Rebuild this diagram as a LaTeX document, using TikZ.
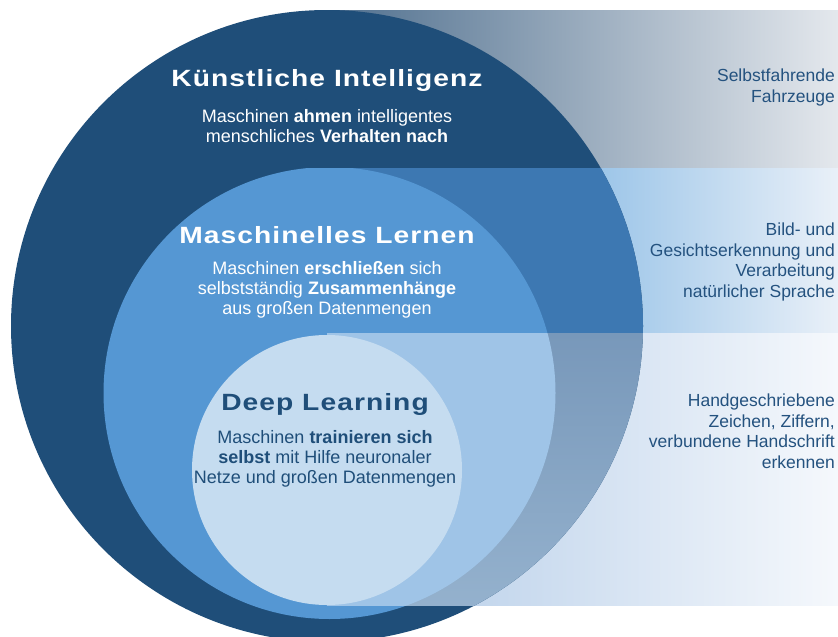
\documentclass[tikz,border=0pt]{standalone}
\usepackage{fontspec}
\setmainfont{Liberation Sans}
\newfontfamily\titlefont[FakeStretch=1.2,LetterSpace=4.5]{Liberation Sans Bold}
\definecolor{kidark}{RGB}{31,78,121}
\definecolor{kiband}{RGB}{61,120,178}
\definecolor{kigrayT}{RGB}{120,152,186}
\definecolor{kigrayB}{RGB}{148,177,205}
\definecolor{mlblue}{RGB}{85,151,211}
\definecolor{mllight}{RGB}{159,196,231}
\definecolor{dllight}{RGB}{197,220,240}
\definecolor{bandAl}{RGB}{79,111,142}
\definecolor{bandAr}{RGB}{228,232,237}
\definecolor{bandBl}{RGB}{154,196,232}
\definecolor{bandBr}{RGB}{233,240,248}
\definecolor{bandCl}{RGB}{193,213,236}
\definecolor{bandCr}{RGB}{245,248,252}
\definecolor{sidetext}{RGB}{36,82,127}
\begin{document}
\begin{tikzpicture}[x=1pt,y=-1pt,
  ttl/.style={font=\titlefont\fontsize{23.5}{27}\selectfont, inner sep=0pt, anchor=base},
  sub/.style={font=\fontsize{18}{20}\selectfont, align=center, inner sep=0pt, anchor=base},
  side/.style={font=\fontsize{17.5}{20.5}\selectfont, align=right, inner sep=0pt, anchor=base east, text=sidetext}]
\fill[white] (0,0) rectangle (838,637);
\clip (0,0) rectangle (838,637);
% bands
\shade[left color=bandAl, right color=bandAr] (327,10) rectangle (838,168.4);
\shade[left color=bandBl, right color=bandBr] (590,168) rectangle (838,333.4);
\shade[left color=bandCl, right color=bandCr] (460,333) rectangle (838,605);
% base circles
\fill[kidark] (327,326) circle[radius=316pt];
\begin{scope}
  \clip (0,168) rectangle (838,637);
  \fill[mlblue] (329.5,393) circle[radius=226pt];
\end{scope}
\fill[dllight] (327,470) circle[radius=135pt];
% band 2 tint (right half)
\begin{scope}
  \clip (327,168) rectangle (838,333.6);
  \fill[kiband] (327,326) circle[radius=316pt];
  \fill[mlblue] (329.5,393) circle[radius=226pt];
\end{scope}
% band 3 tint (right half)
\begin{scope}
  \clip (327,326) circle[radius=316pt];
  \shade[top color=kigrayT, bottom color=kigrayB] (327,333) rectangle (838,605);
\end{scope}
\begin{scope}
  \clip (327,333) rectangle (838,605);
  \fill[mllight] (329.5,393) circle[radius=226pt];
  \fill[dllight] (327,470) circle[radius=135pt];
\end{scope}
% texts
\node[ttl, text=white] (kiT) at (327,86) {Künstliche Intelligenz};
\node[sub, text=white] (kiS) at (327,142) {Maschinen \textbf{ahmen} intelligentes\\menschliches \textbf{Verhalten nach}};
\node[ttl, text=white] (mlT) at (327,243) {Maschinelles Lernen};
\node[sub, text=white] (mlS) at (327,314) {Maschinen \textbf{erschließen} sich\\selbstständig \textbf{Zusammenhänge}\\aus großen Datenmengen};
\node[ttl, text=kidark] (dlT) at (325,410) {Deep Learning};
\node[sub, text=kidark] (dlS) at (325,483) {Maschinen \textbf{trainieren sich}\\\textbf{selbst} mit Hilfe neuronaler\\Netze und großen Datenmengen};
\node[side] (r1) at (835,102) {Selbstfahrende\\Fahrzeuge};
\node[side] (r2) at (835,297) {Bild- und\\Gesichtserkennung und\\Verarbeitung\\natürlicher Sprache};
\node[side] (r3) at (835,468) {Handgeschriebene\\Zeichen, Ziffern,\\verbundene Handschrift\\erkennen};
\end{tikzpicture}
\end{document}
